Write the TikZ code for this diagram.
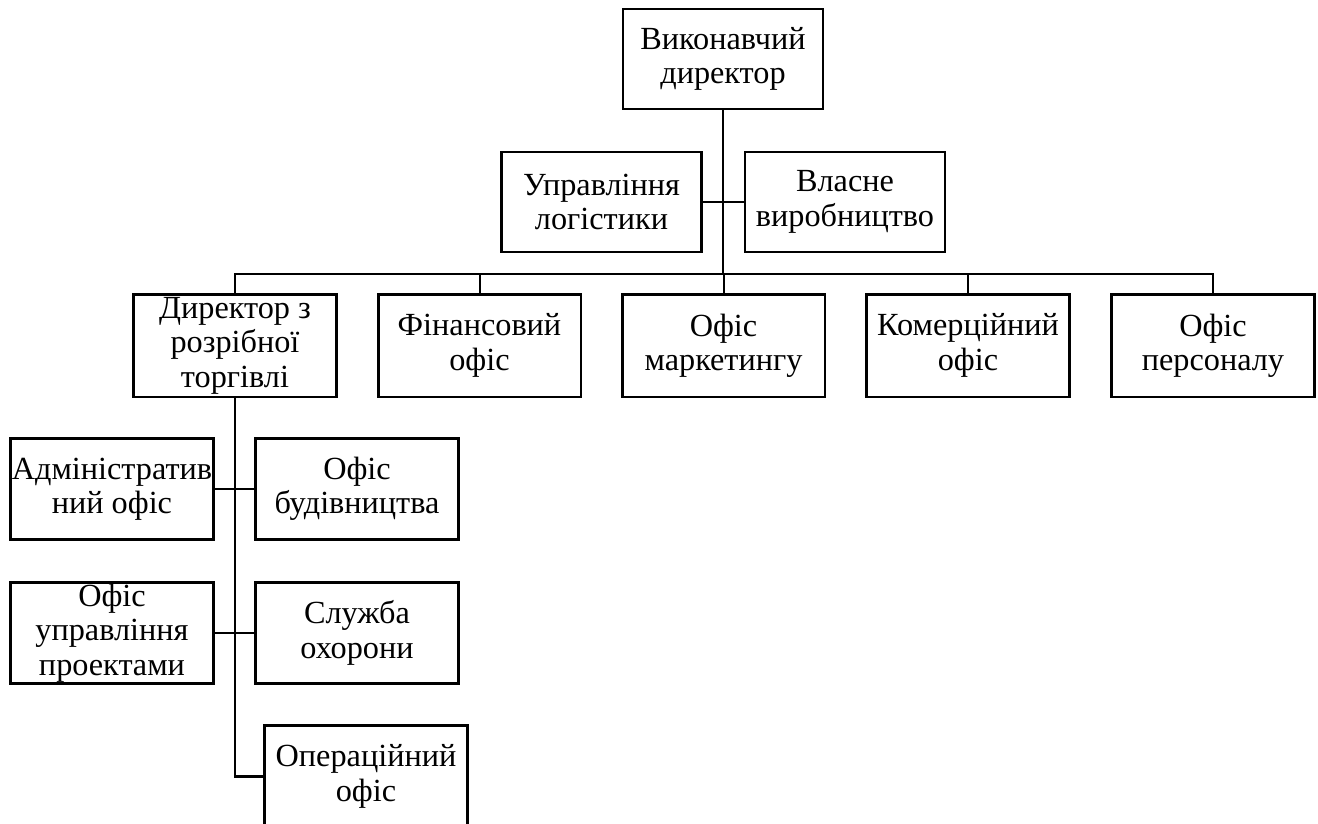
\documentclass[tikz,border=0pt]{standalone}
\usepackage{fontspec}
\setmainfont{Liberation Serif}
\begin{document}
\begin{tikzpicture}[x=0.75pt,y=-0.75pt,
    unit/.style={draw,line width=2pt,inner sep=0pt,align=center,
        minimum width=152pt,minimum height=76pt,font=\fontsize{24.2}{25.8}\selectfont},
    trunk/.style={line width=2.1pt},
    twig/.style={line width=1.5pt}]
		\useasboundingbox (0,0) rectangle (1318,824);
		\node[unit,minimum width=150pt,minimum height=75pt] (ceo) at (723,59) {Виконавчий\\директор};
		\node[unit,minimum width=150pt,minimum height=75pt] (logist) at (601.5,202) {Управління\\логістики};
		\node[unit,minimum width=150pt,minimum height=75pt] (prod) at (845,202) {Власне\\виробництво};
		\node[unit,minimum height=77pt] (retail) at (235,345.5) {Директор з\\розрібної\\торгівлі};
		\node[unit,minimum height=77pt] (fin) at (479.5,345.5) {Фінансовий\\офіс};
		\node[unit,minimum height=77pt] (mark) at (723.5,345.5) {Офіс\\маркетингу};
		\node[unit,minimum height=77pt] (comm) at (968,345.5) {Комерційний\\офіс};
		\node[unit,minimum height=77pt] (staff) at (1213,345.5) {Офіс\\персоналу};
		\node[unit] (admin) at (112,489) {Адміністратив\\ний офіс};
		\node[unit] (build) at (357,489) {Офіс\\будівництва};
		\node[unit] (proj) at (112,633) {Офіс\\управління\\проектами};
		\node[unit] (guard) at (357,633) {Служба\\охорони};
		\node[unit,minimum height=77pt] (ops) at (366,776.5) {Операційний\\офіс};
		\coordinate (bus) at (723,274);
        % top part
		\draw[trunk] (ceo.south) -- (bus);
		\draw[twig] (logist.east) -- (prod.west);
		\draw[trunk] (retail.north) |- (bus);
		\draw[trunk] (staff.north) |- (bus);
		\draw[twig] (fin.north) -- (fin.north |- bus);
		\draw[twig] (mark.north) -- (mark.north |- bus);
		\draw[twig] (comm.north) -- (comm.north |- bus);
        % retail branch
		\draw[trunk] (retail.south) |- (ops.west);
		\draw[twig] (admin.east) -- (build.west);
		\draw[twig] (proj.east) -- (guard.west);
		\end{tikzpicture}
\end{document}
